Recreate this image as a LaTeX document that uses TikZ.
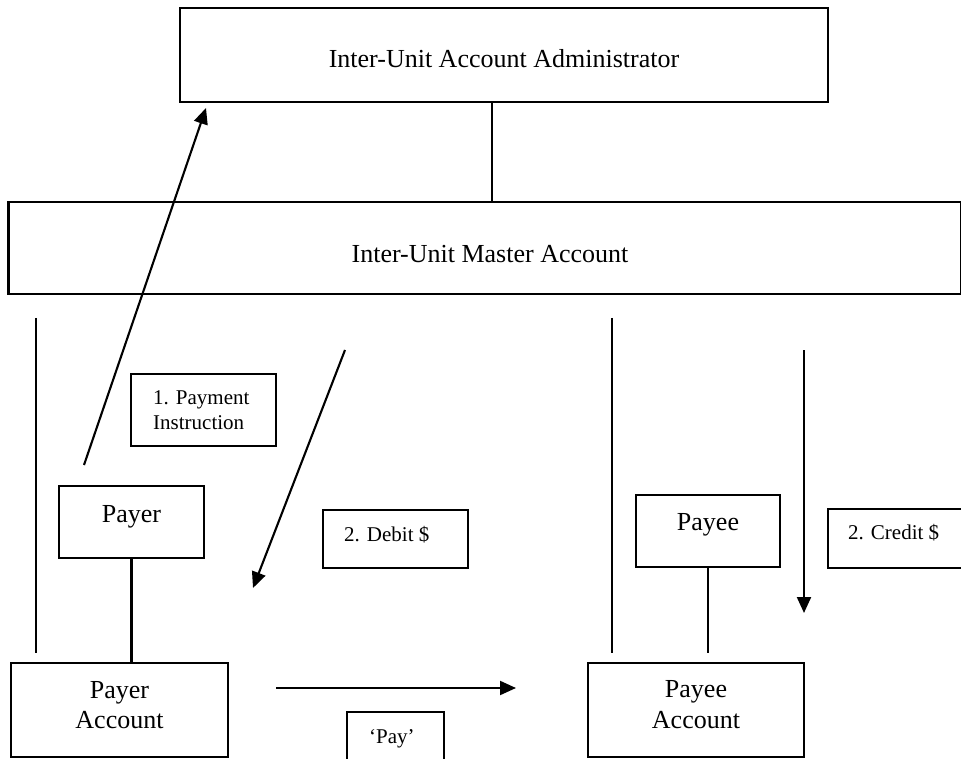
\documentclass[tikz,border=0pt]{standalone}
\usepackage{fontspec}
\setmainfont{Liberation Serif}
\usetikzlibrary{arrows.meta}
\begin{document}
\begin{tikzpicture}[x=1pt,y=-1pt,
  box/.style={draw,line width=2.1pt,inner sep=0pt,outer sep=0pt,rectangle},
  big/.style={font=\fontsize{26}{30}\selectfont,inner sep=0pt},
  small/.style={font=\fontsize{21}{25}\selectfont,inner sep=0pt},
  ln/.style={line width=2.1pt},
  arr/.style={line width=2.1pt,-{Triangle[length=16pt,width=14pt]}}]
\useasboundingbox (0,0) rectangle (961,759);
% boxes
\node[box,minimum width=648pt,minimum height=94pt] (admin) at (504,55) {};
\node[box,minimum width=953pt,minimum height=92pt] (master) at (485,248) {};
\node[box,minimum width=145pt,minimum height=72pt] (instr) at (203.5,410) {};
\node[box,minimum width=145pt,minimum height=72pt] (payer) at (131.5,522) {};
\node[box,minimum width=217pt,minimum height=94pt] (payeracc) at (119.5,710) {};
\node[box,minimum width=145pt,minimum height=58pt] (debit) at (395.5,539) {};
\node[box,minimum width=97pt,minimum height=78pt] (paybox) at (395.5,751) {};
\node[box,minimum width=144pt,minimum height=72pt] (payee) at (708,531) {};
\node[box,minimum width=216pt,minimum height=94pt] (payeeacc) at (696,710) {};
\node[box,minimum width=172pt,minimum height=59pt] (credit) at (914,538.5) {};
% texts
\node[big,anchor=base] (tadmin) at (504,68) {Inter-Unit Account Administrator};
\node[big,anchor=base] (tmaster) at (490,263) {Inter-Unit Master Account};
\node[small,anchor=base west] (tinstr1) at (153,404) {1. Payment};
\node[small,anchor=base west] (tinstr2) at (153,429) {Instruction};
\node[big,anchor=base] (tpayer) at (131.5,522) {Payer};
\node[big,anchor=base] (tpayeracc1) at (119.5,698) {Payer};
\node[big,anchor=base] (tpayeracc2) at (119.5,728) {Account};
\node[small,anchor=base west] (tdebit) at (344,541) {2. Debit \$};
\node[small,anchor=base west] (tpay) at (369,743) {‘Pay’};
\node[big,anchor=base] (tpayee) at (708,530) {Payee};
\node[big,anchor=base] (tpayeeacc1) at (696,697) {Payee};
\node[big,anchor=base] (tpayeeacc2) at (696,728) {Account};
\node[small,anchor=base west] (tcredit) at (848,539) {2. Credit \$};
% coordinates
\coordinate (am) at (492,0);
\coordinate (l1a) at (36,318); \coordinate (l1b) at (36,653);
\coordinate (l2a) at (612,318); \coordinate (l2b) at (612,653);
\coordinate (pyb) at (708,653);
\coordinate (a1s) at (84,465); \coordinate (a1e) at (206,108);
\coordinate (a2s) at (345,350); \coordinate (a2e) at (253,588);
\coordinate (a3s) at (276,688); \coordinate (a3e) at (516,688);
\coordinate (a4s) at (804,350); \coordinate (a4e) at (804,613);
% connectors
\draw[line width=1.4pt] (admin.south -| am) -- (master.north -| am);
\draw[ln] (l1a) -- (l1b);
\draw[ln] (l2a) -- (l2b);
\draw[ln] (payer.south) -- (payer.south |- payeracc.north);
\draw[ln] (payee.south) -- (pyb);
\draw[arr] (a1s) -- (a1e);
\draw[arr] (a2s) -- (a2e);
\draw[arr] (a3s) -- (a3e);
\draw[arr] (a4s) -- (a4e);
\end{tikzpicture}
\end{document}
